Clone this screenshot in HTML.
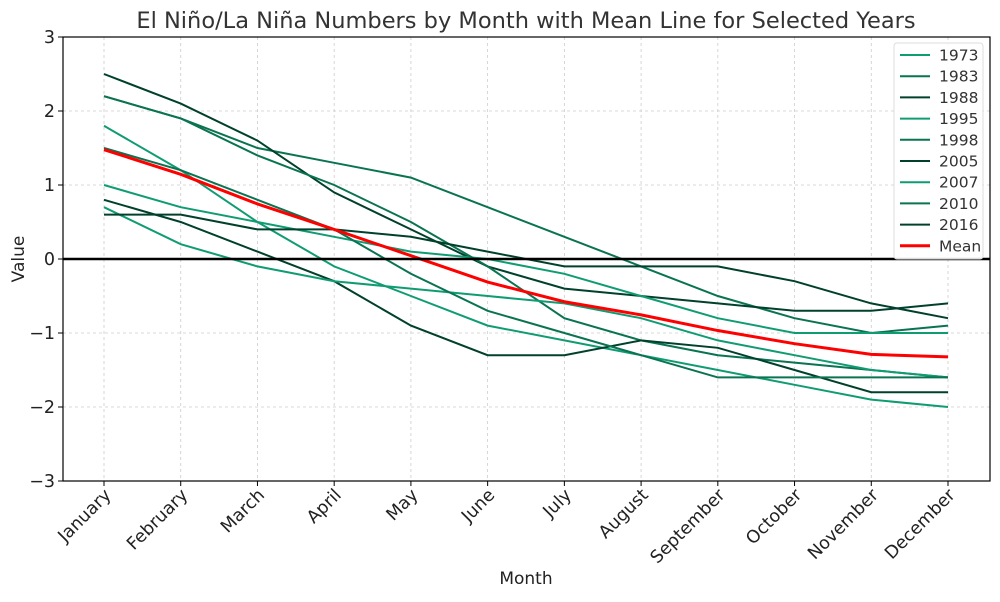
<!DOCTYPE html>
<html><head><meta charset="utf-8"><style>
body{margin:0;background:#fff;font-family:"Liberation Sans","DejaVu Sans",sans-serif}
</style></head><body>
<svg id="chart" width="1000" height="597" xmlns="http://www.w3.org/2000/svg" font-family="DejaVu Sans, Liberation Sans, sans-serif"></svg>
<script>
const months=["January","February","March","April","May","June","July","August","September","October","November","December"];
const years=["1973","1983","1988","1995","1998","2005","2007","2010","2016"];
const s1973=[1.8,1.2,0.5,-0.1,-0.5,-0.9,-1.1,-1.3,-1.5,-1.7,-1.9,-2.0];
const s1983=[2.2,1.9,1.5,1.3,1.1,0.7,0.3,-0.1,-0.5,-0.8,-1.0,-0.9];
const s1988=[2.5,2.1,1.6,0.9,0.4,-0.1,-0.4,-0.5,-0.6,-0.7,-0.7,-0.6];
const s1995=[1.0,0.7,0.5,0.3,0.1,0.0,-0.2,-0.5,-0.8,-1.0,-1.0,-1.0];
const s1998=[2.2,1.9,1.4,1.0,0.5,-0.1,-0.8,-1.1,-1.3,-1.4,-1.5,-1.6];
const s2005=[0.8,0.5,0.1,-0.3,-0.9,-1.3,-1.3,-1.1,-1.2,-1.5,-1.8,-1.8];
const s2007=[0.7,0.2,-0.1,-0.3,-0.4,-0.5,-0.6,-0.8,-1.1,-1.3,-1.5,-1.6];
const s2010=[1.5,1.2,0.8,0.4,-0.2,-0.7,-1.0,-1.3,-1.6,-1.6,-1.6,-1.6];
const s2016=[0.6,0.6,0.4,0.4,0.3,0.1,-0.1,-0.1,-0.1,-0.3,-0.6,-0.8];
const yTicks=[-3,-2,-1,0,1,2,3];
const series=[s1973,s1983,s1988,s1995,s1998,s2005,s2007,s2010,s2016];
const colors=["#109c73","#0a7352","#00402c"];
const L=63,R=990,T=37,B=481;
const x=i=>104+i*(948-104)/(months.length-1);
const y=v=>T+(3-v)*(B-T)/6;
const svg=document.getElementById('chart');
const NS="http://www.w3.org/2000/svg";
function mk(tag,attrs,parent){const e=document.createElementNS(NS,tag);for(const k in attrs)e.setAttribute(k,attrs[k]);(parent||svg).appendChild(e);return e;}
months.forEach((m,i)=>{const g=mk('line',{x1:x(i),x2:x(i),y1:T,y2:B,stroke:'#ccc','stroke-dasharray':'3,3','stroke-width':0.8});

});
yTicks.forEach(v=>{const g=mk('line',{x1:L,x2:R,y1:y(v),y2:y(v),stroke:'#ccc','stroke-dasharray':'3,3','stroke-width':0.8});

});
series.forEach((s,k)=>{const p=mk('polyline',{points:s.map((v,i)=>x(i)+','+y(v)).join(' '),fill:'none',stroke:colors[k%3],'stroke-width':2});

});
const mean=months.map((m,i)=>series.reduce((a,s)=>a+s[i],0)/series.length);
const mp=mk('polyline',{points:mean.map((v,i)=>x(i)+','+y(v)).join(' '),fill:'none',stroke:'#ff0000','stroke-width':3});


const zl=mk('line',{x1:L,x2:R,y1:y(0),y2:y(0),stroke:'#000','stroke-width':2.5});


const ax=mk('rect',{x:L,y:T,width:R-L,height:B-T,fill:'none',stroke:'#000','stroke-width':1.2});


yTicks.forEach(v=>{mk('line',{x1:L-5,x2:L,y1:y(v),y2:y(v),stroke:'#000'});
const t=mk('text',{x:L-8,y:y(v)+6,'text-anchor':'end','font-size':17.5,fill:'#222'});t.textContent=v<0?'\u2212'+(-v):v;

});
months.forEach((m,i)=>{mk('line',{x1:x(i),x2:x(i),y1:B,y2:B+5,stroke:'#000'});
const t=mk('text',{x:x(i)+8,y:B+15,'text-anchor':'end','font-size':17.5,fill:'#222',transform:`rotate(-45 ${x(i)+8} ${B+15})`});t.textContent=m;

});
const ti=mk('text',{x:526,y:28,'text-anchor':'middle','font-size':22.5,fill:'#333'});ti.textContent='El Niño/La Niña Numbers by Month with Mean Line for Selected Years';


const xt=mk('text',{x:526,y:584,'text-anchor':'middle','font-size':17,fill:'#222'});xt.textContent='Month';


const yt=mk('text',{x:24,y:259,'text-anchor':'middle','font-size':17,fill:'#222',transform:'rotate(-90 24 259)'});yt.textContent='Value';


const lg=mk('g',{});


mk('rect',{x:894,y:43,width:89,height:216,rx:3,fill:'#fff','fill-opacity':0.85,stroke:'#ddd'},lg);
years.concat(['Mean']).forEach((yr,k)=>{const cy=55+k*21.2;const isM=k===years.length;
mk('line',{x1:900,x2:930,y1:cy,y2:cy,stroke:isM?'#ff0000':colors[k%3],'stroke-width':isM?3:2},lg);
const t=mk('text',{x:939,y:cy+5.5,'font-size':15.5,fill:'#333'},lg);t.textContent=yr;

});
</script>
</body></html>
